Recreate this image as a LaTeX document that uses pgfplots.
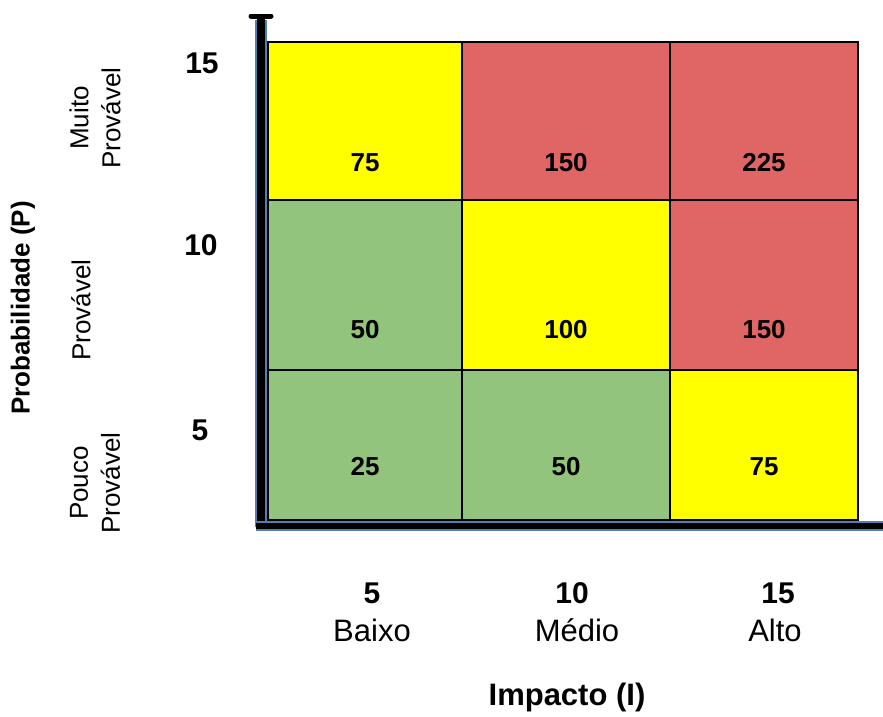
\documentclass[border=0pt]{standalone}
\usepackage{pgfplots}
\pgfplotsset{compat=1.18}
\usepackage{pgfplotstable}
\usepackage{fontspec}
\setmainfont{Liberation Sans}
\usetikzlibrary{arrows.meta}
\definecolor{cy}{RGB}{255,255,0}
\definecolor{cr}{RGB}{224,102,102}
\definecolor{cg}{RGB}{147,196,125}
\definecolor{axblue}{RGB}{85,125,175}

\pgfplotstableread{
x y v
365 163 75
566 163 150
764 163 225
365 330 50
566 330 100
764 330 150
365 467 25
566 467 50
764 467 75
}\cellvalues

\begin{document}
\begin{tikzpicture}
\begin{axis}[
  width=883pt, height=716pt, scale only axis,
  xmin=0, xmax=883, ymin=0, ymax=716, y dir=reverse,
  hide axis, clip=false,
]
% row 1 (top)
\addplot[fill=cy, draw=black, line width=2pt] coordinates {(268,42) (462,42) (462,200) (268,200)} --cycle;
\addplot[fill=cr, draw=black, line width=2pt] coordinates {(462,42) (670,42) (670,200) (462,200)} --cycle;
\addplot[fill=cr, draw=black, line width=2pt] coordinates {(670,42) (858,42) (858,200) (670,200)} --cycle;
% row 2
\addplot[fill=cg, draw=black, line width=2pt] coordinates {(268,200) (462,200) (462,370) (268,370)} --cycle;
\addplot[fill=cy, draw=black, line width=2pt] coordinates {(462,200) (670,200) (670,370) (462,370)} --cycle;
\addplot[fill=cr, draw=black, line width=2pt] coordinates {(670,200) (858,200) (858,370) (670,370)} --cycle;
% row 3
\addplot[fill=cg, draw=black, line width=2pt] coordinates {(268,370) (462,370) (462,520) (268,520)} --cycle;
\addplot[fill=cg, draw=black, line width=2pt] coordinates {(462,370) (670,370) (670,520) (462,520)} --cycle;
\addplot[fill=cy, draw=black, line width=2pt] coordinates {(670,370) (858,370) (858,520) (670,520)} --cycle;
% cell values
\addplot[draw=none, mark=none, nodes near coords, point meta=explicit symbolic,
  every node near coord/.append style={anchor=center, font=\fontsize{26}{30}\selectfont\bfseries}]
  table[x=x, y=y, meta=v] {\cellvalues};
% axes
\draw[axblue, line width=12pt] (axis cs:261,527) -- (axis cs:261,20);
\draw[black, line width=8pt] (axis cs:261,527) -- (axis cs:261,18);
\draw[black, line width=5pt, line cap=round] (axis cs:251,16) -- (axis cs:271,16);
\draw[axblue, line width=10pt] (axis cs:256,526) -- (axis cs:883,526);
\draw[black, line width=6pt] (axis cs:256,526) -- (axis cs:883,526);
% y tick labels
\node[font=\fontsize{30}{36}\selectfont\bfseries] at (axis cs:202,63) {15};
\node[font=\fontsize{30}{36}\selectfont\bfseries] at (axis cs:201,245) {10};
\node[font=\fontsize{30}{36}\selectfont\bfseries] at (axis cs:200,430) {5};
% row labels
\node[rotate=90, align=center, font=\fontsize{26}{32}\selectfont] at (axis cs:95,118) {Muito\\Provável};
\node[rotate=90, align=center, font=\fontsize{26}{32}\selectfont] at (axis cs:81,310) {Provável};
\node[rotate=90, align=center, font=\fontsize{26}{32}\selectfont] at (axis cs:95,483) {Pouco\\Provável};
\node[rotate=90, font=\fontsize{26}{32}\selectfont\bfseries] at (axis cs:23,308) {Probabilidade (P)};
% x tick labels
\node[font=\fontsize{30}{36}\selectfont\bfseries] at (axis cs:372,593) {5};
\node[font=\fontsize{31}{36}\selectfont] at (axis cs:372,630) {Baixo};
\node[font=\fontsize{30}{36}\selectfont\bfseries] at (axis cs:572,593) {10};
\node[font=\fontsize{31}{36}\selectfont] at (axis cs:577,630) {Médio};
\node[font=\fontsize{30}{36}\selectfont\bfseries] at (axis cs:778,593) {15};
\node[font=\fontsize{31}{36}\selectfont] at (axis cs:775,630) {Alto};
\node[font=\fontsize{31}{36}\selectfont\bfseries] at (axis cs:567,697) {Impacto (I)};
\end{axis}
\pgfresetboundingbox
\useasboundingbox (current axis.south west) rectangle (current axis.north east);
\end{tikzpicture}
\end{document}
